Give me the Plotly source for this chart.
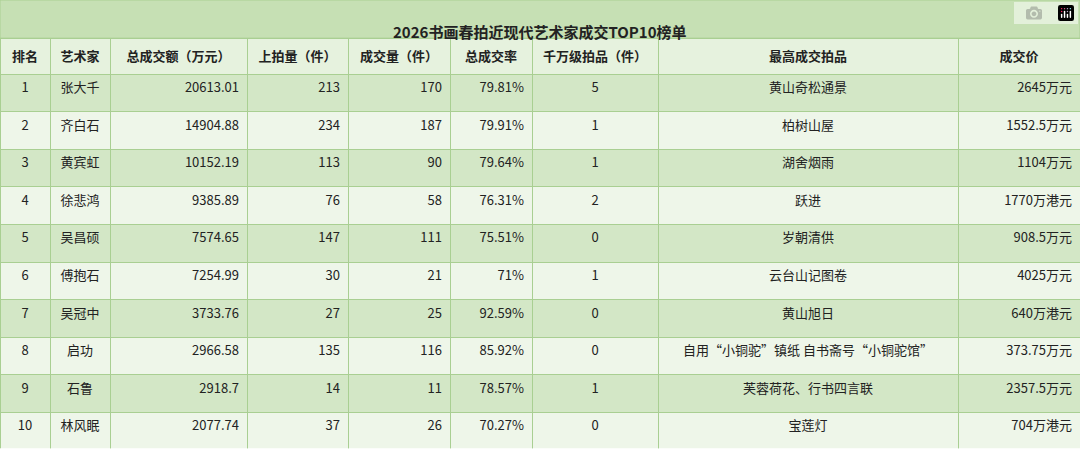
import plotly.graph_objects as go

title = "2026书画春拍近现代艺术家成交TOP10榜单"
headers = ["排名", "艺术家", "总成交额（万元）", "上拍量（件）", "成交量（件）", "总成交率", "千万级拍品（件）", "最高成交拍品", "成交价"]
rank = [1, 2, 3, 4, 5, 6, 7, 8, 9, 10]
artist = ["张大千", "齐白石", "黄宾虹", "徐悲鸿", "吴昌硕", "傅抱石", "吴冠中", "启功", "石鲁", "林风眠"]
total = ["20613.01", "14904.88", "10152.19", "9385.89", "7574.65", "7254.99", "3733.76", "2966.58", "2918.7", "2077.74"]
lots = [213, 234, 113, 76, 147, 30, 27, 135, 14, 37]
sold = [170, 187, 90, 58, 111, 21, 25, 116, 11, 26]
rate = ["79.81%", "79.91%", "79.64%", "76.31%", "75.51%", "71%", "92.59%", "85.92%", "78.57%", "70.27%"]
big = [5, 1, 1, 2, 0, 1, 0, 0, 1, 0]
top_item = ["黄山奇松通景", "柏树山屋", "湖舍烟雨", "跃进", "岁朝清供", "云台山记图卷", "黄山旭日",
            "自用“小铜驼”镇纸 自书斋号“小铜驼馆”", "芙蓉荷花、行书四言联", "宝莲灯"]
price = ["2645万元", "1552.5万元", "1104万元", "1770万港元", "908.5万元", "4025万元", "640万港元",
         "373.75万元", "2357.5万元", "704万港元"]

widths = [50, 60, 137, 101, 102, 82, 126, 300, 122]
dark, light = "#d3e7c6", "#eef6e9"
rowfill = [dark if i % 2 == 0 else light for i in range(len(rank))]
cols = [rank, artist, total, lots, sold, rate, big, top_item, price]
align = ["center", "center", "right", "right", "right", "right", "center", "center", "right"]
font = "Noto Sans CJK SC"

fig = go.Figure(go.Table(
    domain=dict(x=[0, 1], y=[0, 0.915]),
    columnwidth=widths,
    header=dict(values=[f"<b>{h}</b>" for h in headers], fill_color="#e6f2de",
                line_color="#a9cf92", align="center", height=36,
                font=dict(family=font, size=13, color="#222")),
    cells=dict(values=cols, fill_color=[rowfill] * len(cols), line_color="#a9cf92",
               align=align, height=37.6, font=dict(family=font, size=13, color="#222")),
))
fig.add_shape(type="rect", xref="paper", yref="paper", x0=0, x1=1, y0=0.915, y1=1,
              fillcolor="#c6e0b4", line=dict(color="#a9cf92", width=1), layer="below")
fig.add_annotation(text=f"<b>{title}</b>", xref="paper", yref="paper", x=0.5, y=0.957,
                   showarrow=False, font=dict(family=font, size=15, color="#222"))
fig.update_layout(width=1080, height=449, margin=dict(l=0, r=0, t=0, b=0),
                  paper_bgcolor="white")
fig.write_html("out.html", post_script="document.body.style.margin='0';document.body.style.overflow='hidden';")
